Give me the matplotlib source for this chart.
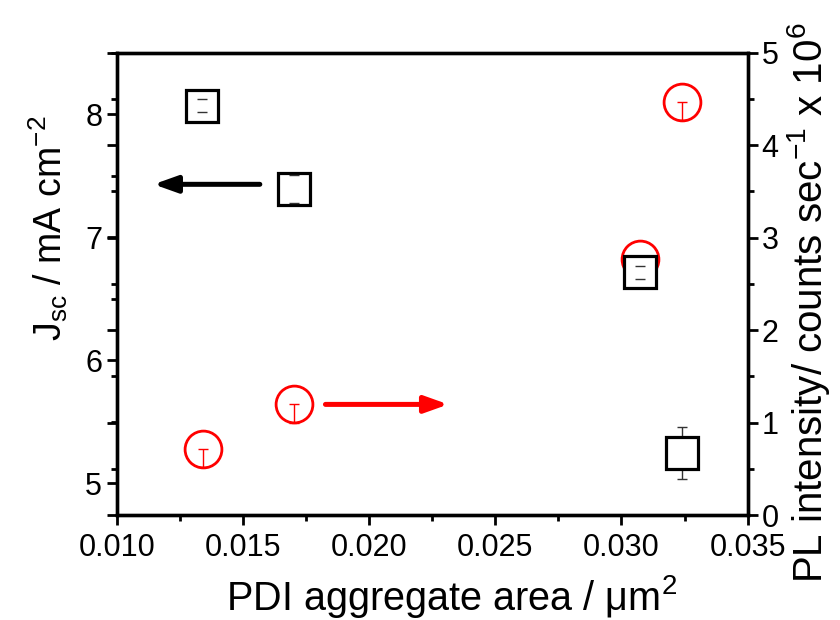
import matplotlib.pyplot as plt
from matplotlib.ticker import MultipleLocator

plt.rcParams['font.family'] = ['Liberation Sans', 'DejaVu Sans']
plt.rcParams['mathtext.fontset'] = 'custom'
plt.rcParams['mathtext.rm'] = 'Liberation Sans'

# PDI aggregate area (um^2)
area_jsc = [0.01339, 0.01704, 0.03074, 0.03239]
# Jsc (mA cm^-2) with lower / upper errors
jsc = [8.07, 7.394, 6.714, 5.244]
jsc_err_lo = [0.052, 0.115, 0.05, 0.21]
jsc_err_hi = [0.057, 0.115, 0.05, 0.21]

area_pl = [0.013425, 0.01702, 0.03074, 0.03239]
# PL intensity (counts/sec x 10^6) with lower errors
pl = [0.716, 1.20, 2.77, 4.47]
pl_err_lo = [0.19, 0.20, 0.20, 0.20]

fig = plt.figure(figsize=(8.4, 6.2), dpi=100)
ax1 = fig.add_axes([0.139, 0.169, 0.751, 0.746])
ax2 = ax1.twinx()
ax1.set_zorder(ax2.get_zorder() + 1)
ax1.patch.set_visible(False)

# Jsc squares (left axis): stems under the white symbol, caps on top
ax1.plot(area_jsc, jsc, 's', ms=23.5, mfc='white', mec='black', mew=2.3, zorder=3)
eb = ax1.errorbar(area_jsc, jsc, yerr=[jsc_err_lo, jsc_err_hi], fmt='none',
                  ecolor='0.2', elinewidth=1.0, capsize=3.6, capthick=1.0, zorder=2)
for cap in eb[1]:
    cap.set_zorder(4)

# PL circles (right axis)
ax2.plot(area_pl, pl, 'o', ms=26.5, mfc='none', mec='red', mew=2.0, zorder=3)
ax2.errorbar(area_pl, pl, yerr=[pl_err_lo, [0] * len(pl)], fmt='none',
             ecolor='red', elinewidth=1.0, capsize=3.4, capthick=1.0, zorder=4)

# arrows
ax1.annotate('', xy=(0.01135, 7.43), xytext=(0.01578, 7.43),
             arrowprops=dict(arrowstyle='-|>,head_length=1.4,head_width=0.5',
                             color='black', lw=3.6, capstyle='round'))
ax2.annotate('', xy=(0.02325, 1.198), xytext=(0.01816, 1.198),
             arrowprops=dict(arrowstyle='-|>,head_length=1.4,head_width=0.5',
                             color='red', lw=3.6, capstyle='round'))

ax1.set_xlim(0.010, 0.035)
ax1.set_ylim(4.74, 8.5)
ax2.set_ylim(0, 5)

ax1.xaxis.set_major_locator(MultipleLocator(0.005))
ax1.xaxis.set_minor_locator(MultipleLocator(0.0025))
ax1.yaxis.set_major_locator(MultipleLocator(1))
ax1.yaxis.set_minor_locator(MultipleLocator(0.5))
ax2.yaxis.set_major_locator(MultipleLocator(1))
ax2.yaxis.set_minor_locator(MultipleLocator(0.5))
ax1.xaxis.set_major_formatter(plt.FormatStrFormatter('%.3f'))

for ax in (ax1, ax2):
    for s in ax.spines.values():
        s.set_linewidth(2.4)
    ax.tick_params(which='major', direction='out', length=7, width=2.0, labelsize=22)
    ax.tick_params(which='minor', direction='out', length=4.5, width=2.0)

ax1.tick_params(axis='x', which='both', top=False)
ax1.tick_params(axis='y', which='both', right=False)
ax2.tick_params(axis='y', which='both', left=True, right=True, labelleft=False)
ax1.tick_params(axis='x', pad=6)
ax2.tick_params(axis='y', pad=3)

ax1.set_xlabel('PDI aggregate area / μm$^2$', fontsize=28.5)
ax1.set_ylabel('J$\\mathregular{_{sc}}$ / mA cm$^{-2}$', fontsize=27)
ax2.set_ylabel('PL intensity/ counts sec$^{-1}$ x 10$^6$', fontsize=29)
ax1.xaxis.set_label_coords(0.531, -0.125)
ax1.yaxis.set_label_coords(-0.074, 0.62)
ax2.yaxis.set_label_coords(1.060, 0.46)

fig.savefig('out.png', dpi=100)
